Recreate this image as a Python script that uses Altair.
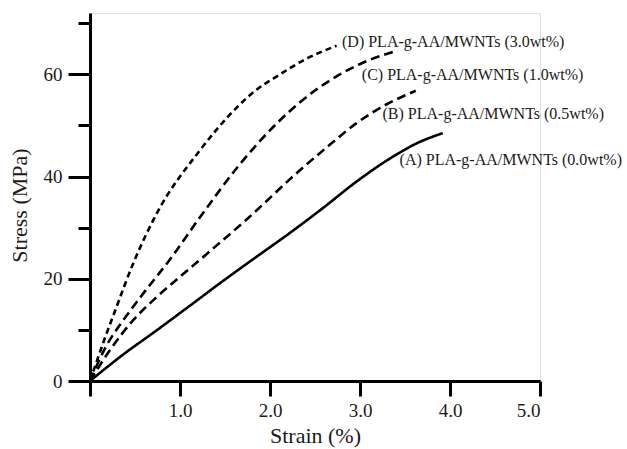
import altair as alt
import pandas as pd

# Stress-strain curves (strain in %, stress in MPa)
strain_a = [0, 0.37, 0.74, 1.1, 1.48, 1.81, 2.2, 2.6, 2.96, 3.33, 3.63, 3.92]
stress_a = [0, 5.2, 9.9, 14.6, 19.6, 23.8, 28.7, 34.0, 39.0, 43.5, 46.5, 48.5]

strain_b = [0, 0.22, 0.48, 0.74, 1.0, 1.3, 1.74, 2.33, 2.67, 2.95, 3.22, 3.62]
stress_b = [0, 6.0, 11.9, 16.4, 20.4, 24.9, 31.6, 41.2, 46.3, 50.3, 53.4, 56.8]

strain_c = [0, 0.17, 0.37, 0.56, 0.91, 1.22, 1.67, 2.07, 2.33, 2.74, 3.05, 3.37]
stress_c = [0, 6.5, 11.9, 16.4, 24.3, 32.0, 42.5, 50.3, 54.5, 59.6, 62.4, 64.4]

strain_d = [0, 0.17, 0.28, 0.48, 0.73, 1.22, 1.63, 1.85, 2.04, 2.41, 2.74]
stress_d = [0, 8.6, 13.8, 23.0, 32.4, 45.1, 53.5, 57.0, 59.2, 63.1, 65.6]

series_names = ["A", "B", "C", "D"]
label_texts = [
    "(A) PLA-g-AA/MWNTs (0.0wt%)",
    "(B) PLA-g-AA/MWNTs (0.5wt%)",
    "(C) PLA-g-AA/MWNTs (1.0wt%)",
    "(D) PLA-g-AA/MWNTs (3.0wt%)",
]
label_x = [3.44, 3.25, 3.02, 2.80]
label_y = [43.2, 52.3, 59.8, 66.3]

rows = []
for name, xs, ys in zip(series_names,
                        [strain_a, strain_b, strain_c, strain_d],
                        [stress_a, stress_b, stress_c, stress_d]):
    for i, (x, y) in enumerate(zip(xs, ys)):
        rows.append({"series": name, "order": i, "strain": x, "stress": y})
curves = pd.DataFrame(rows)

labels = pd.DataFrame({"text": label_texts, "x": label_x, "y": label_y})

FONT = "Liberation Serif"
INK = "#1a1a1a"

x_scale = alt.Scale(domain=[0, 5], nice=False, zero=True)
y_scale = alt.Scale(domain=[0, 72], nice=False, zero=True)

x_axis = alt.Axis(
    values=[0, 1, 2, 3, 4, 5],
    labelExpr="datum.value == 0 ? '' : format(datum.value, '.1f')",
    title="Strain (%)",
    grid=False,
    domainColor="black", domainWidth=3,
    tickColor="black", tickWidth=3, tickSize=15,
    labelFont=FONT, labelFontSize=19, labelColor=INK, labelPadding=5,
    titleFont=FONT, titleFontSize=22, titleFontWeight="normal", titleColor=INK,
    titlePadding=5,
)

y_axis = alt.Axis(
    values=[0, 10, 20, 30, 40, 50, 60, 70],
    labelExpr="datum.value % 20 == 0 ? format(datum.value, 'd') : ''",
    title="Stress (MPa)",
    grid=False,
    domainColor="black", domainWidth=3,
    tickColor="black", tickWidth=3,
    tickSize={"condition": {"test": "datum.value % 20 == 0", "value": 22}, "value": 12},
    labelFont=FONT, labelFontSize=19, labelColor=INK, labelPadding=6,
    titleFont=FONT, titleFontSize=22, titleFontWeight="normal", titleColor=INK,
    titlePadding=12, titleY=192,
)

lines = alt.Chart(curves).mark_line(
    color="black", strokeWidth=2.6, strokeCap="butt", interpolate="monotone"
).encode(
    x=alt.X("strain:Q", scale=x_scale, axis=x_axis),
    y=alt.Y("stress:Q", scale=y_scale, axis=y_axis),
    detail="series:N",
    order="order:Q",
    strokeDash=alt.StrokeDash(
        "series:N",
        scale=alt.Scale(domain=series_names,
                        range=[[1, 0], [9, 5], [9, 5], [6, 4]]),
        legend=None,
    ),
)

text = alt.Chart(labels).mark_text(
    align="left", baseline="middle", font=FONT, fontSize=16, color=INK
).encode(
    x=alt.X("x:Q", scale=x_scale),
    y=alt.Y("y:Q", scale=y_scale),
    text="text:N",
)

chart = (lines + text).properties(
    width=450,
    height=368,
    autosize=alt.AutoSizeParams(type="none"),
    padding={"left": 90, "top": 13, "right": 87, "bottom": 68},
).configure_view(stroke=None).configure(background="white")

chart.save("out.html", embed_options={"renderer": "svg", "actions": False})
